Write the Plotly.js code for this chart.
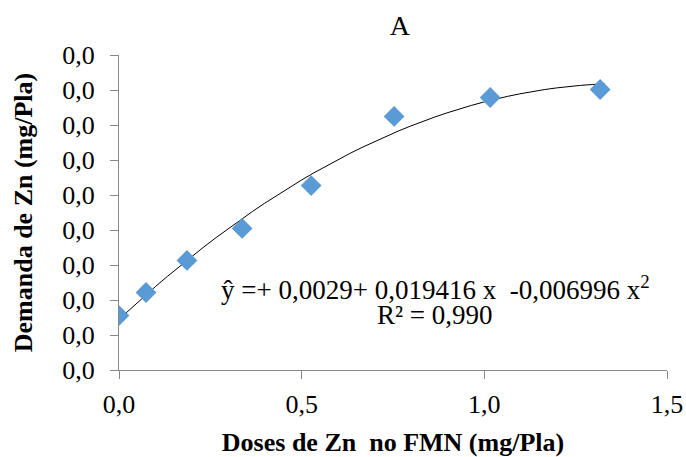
<!DOCTYPE html>
<html>
<head>
<meta charset="utf-8">
<script src="https://cdn.plot.ly/plotly-3.0.1.min.js"></script>
<style>html,body{margin:0;padding:0;background:#fff;}#chart{width:686px;height:457px;}</style>
</head>
<body>
<div id="chart"></div>
<script>
var doses = [0.0, 0.074, 0.186, 0.337, 0.526, 0.753, 1.016, 1.317];
var demanda = [0.00311, 0.00443, 0.00626, 0.00809, 0.01054, 0.01449, 0.01557, 0.01603];

// Trendline coefficients shown on the chart
var b0 = 0.0029, b1 = 0.019416, b2 = -0.006996;
var curveX = [];
for (var i = 0; i <= 40; i++) curveX.push(1.33 * i / 40);
var curveY = curveX.map(function (x) { return b0 + b1 * x + b2 * x * x; });

var xTicks = [0, 0.5, 1.0, 1.5];
var yTicks = [0, 0.002, 0.004, 0.006, 0.008, 0.010, 0.012, 0.014, 0.016, 0.018];

var serif = "'Liberation Serif', 'Times New Roman', serif";

var traces = [
  {x: curveX, y: curveY, mode: 'lines', line: {color: '#000', width: 1}, hoverinfo: 'skip', showlegend: false},
  {x: doses, y: demanda, mode: 'markers', marker: {symbol: 'diamond', size: 16, color: '#5B9BD5'}, showlegend: false}
];

var layout = {
  width: 686, height: 457,
  margin: {l: 119, r: 19, t: 55, b: 87},
  paper_bgcolor: '#fff', plot_bgcolor: '#fff',
  separators: ',.',
  font: {family: serif, size: 25, color: '#000'},
  title: {text: 'A', x: 0.583, xanchor: 'center', y: 0.945, yanchor: 'middle', font: {family: serif, size: 28, color: '#000'}},
  xaxis: {
    range: [0, 1.5], tickvals: xTicks, tickformat: '.1f',
    showgrid: false, zeroline: false, showline: true, linecolor: '#888', linewidth: 1,
    ticks: 'outside', ticklen: 8, tickcolor: '#888', ticklabelstandoff: 3,
    tickfont: {family: serif, size: 26, color: '#000'},
    title: {text: '<b>Doses de Zn  no FMN (mg/Pla)</b>', font: {family: serif, size: 26, color: '#000'}, standoff: 14}
  },
  yaxis: {
    range: [0, 0.018], tickvals: yTicks, tickformat: '.1f',
    showgrid: false, zeroline: false, showline: true, linecolor: '#888', linewidth: 1,
    ticks: 'outside', ticklen: 8, tickcolor: '#888', ticklabelstandoff: 10,
    tickfont: {family: serif, size: 26, color: '#000'},
    title: {text: '<b>Demanda de Zn (mg/Pla)</b>', font: {family: serif, size: 26, color: '#000'}, standoff: 22}
  },
  annotations: [
    {xref: 'paper', yref: 'paper', x: 0.578, y: 0.260, xanchor: 'center', yanchor: 'middle', showarrow: false,
     text: 'ŷ =+ 0,0029+ 0,019416 x  -0,006996 x<sup>2</sup>', font: {family: serif, size: 27, color: '#000'}},
    {xref: 'paper', yref: 'paper', x: 0.576, y: 0.175, xanchor: 'center', yanchor: 'middle', showarrow: false,
     text: 'R² = 0,990', font: {family: serif, size: 27, color: '#000'}}
  ]
};

Plotly.newPlot('chart', traces, layout, {displayModeBar: false, staticPlot: true});
</script>
</body>
</html>
